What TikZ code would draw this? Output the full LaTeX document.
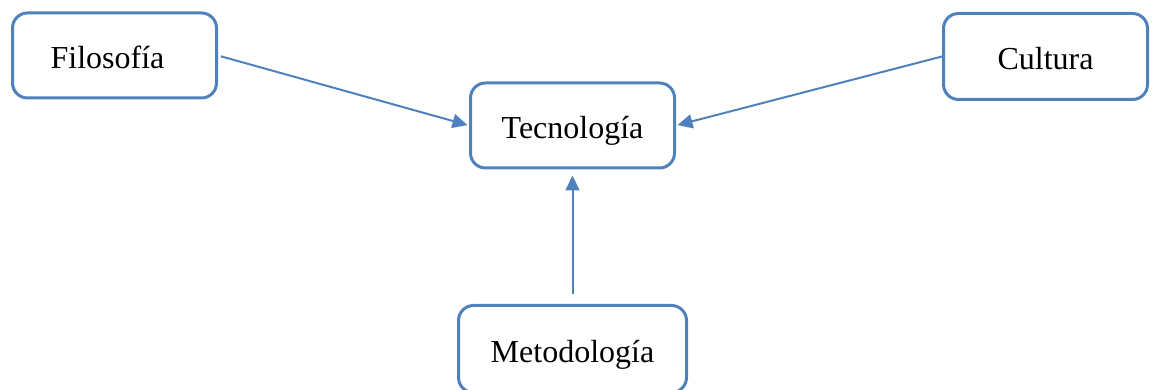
\documentclass[tikz,border=0pt]{standalone}
\usepackage{fontspec}
\setmainfont{Liberation Serif}
\usetikzlibrary{arrows.meta}
\definecolor{boxblue}{RGB}{79,129,189}
\tikzset{
  box/.style={draw=boxblue, line width=3pt, rounded corners=15pt, fill=white,
    minimum width=204pt, minimum height=85pt, inner sep=0pt,
    font=\fontsize{32}{36}\selectfont, text height=30pt, text depth=3pt},
  link/.style={draw=boxblue, line width=2pt,
    -{Triangle[length=15pt,width=14pt]}}
}
\begin{document}
\begin{tikzpicture}[x=1pt,y=1pt]
  \useasboundingbox (0,0) rectangle (1155,390);
  \node[box] (f) at (114.5,334.5) {\hspace*{-14pt}Filosofía};
  \node[box] (t) at (572.5,264.5) {Tecnología};
  \node[box, minimum height=86pt] (c) at (1045.5,333.5) {Cultura};
  \node[box, minimum width=228pt, minimum height=87pt] (m) at (572.5,41) {Metodología};
  \draw[link, shorten <=3pt, shorten >=1.5pt] (f.east) -- (t.west);
  \draw[link, shorten >=1.5pt] (c.west) -- (t.east);
  \draw[link, shorten <=10pt, shorten >=6pt] (m.north) -- (t.south);
\end{tikzpicture}
\end{document}
